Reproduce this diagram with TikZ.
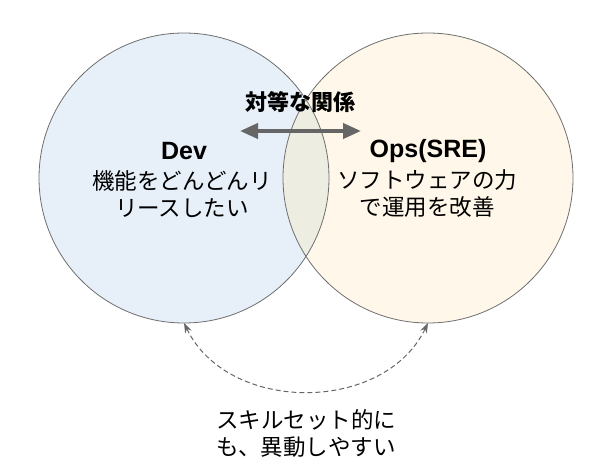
\documentclass[tikz,border=0pt]{standalone}
\usepackage{fontspec}
\setmainfont{Liberation Sans}
\newfontfamily\jp{Noto Sans CJK JP}
\usetikzlibrary{arrows.meta}
\definecolor{devfill}{HTML}{E7EFF8}
\definecolor{opsfill}{HTML}{FFF8EA}
\definecolor{lensfill}{HTML}{EDEDE2}
\definecolor{edgegray}{HTML}{6E6E6E}
\definecolor{arrowgray}{HTML}{666666}
\tikzset{
  setcircle/.style={circle, minimum size=290pt, inner sep=0pt, outer sep=0pt, draw=edgegray, line width=0.8pt},
  title/.style={font=\bfseries\fontsize{25}{28}\selectfont, inner sep=0pt},
  body/.style={font=\jp\fontsize{22.5}{27}\selectfont, align=center, inner sep=0pt},
  reltext/.style={font=\jp\bfseries\fontsize{22}{25}\selectfont, inner sep=0pt},
  bigarrow/.style={arrowgray, line width=4pt, {Triangle[length=18pt,width=15pt]}-{Triangle[length=18pt,width=15pt]}},
  dasharrow/.style={arrowgray, line width=1pt, dashed, dash pattern=on 5pt off 3pt, {Stealth[length=10pt,width=7pt]}-{Stealth[length=10pt,width=7pt]}}
}
\begin{document}
\begin{tikzpicture}[x=1pt,y=-1pt]
\useasboundingbox (0,0) rectangle (600,473);
\fill[devfill] (184,178) circle[radius=145pt];
\fill[opsfill] (428,178) circle[radius=145pt];
\begin{scope}
  \clip (184,178) circle[radius=145pt];
  \fill[lensfill] (428,178) circle[radius=145pt];
\end{scope}
\node[setcircle] (dev) at (184,178) {};
\node[setcircle] (ops) at (428,178) {};

\node[title] (devt) at (184,151) {Dev};
\node[body] (devb) at (182,194) {機能をどんどんリ\\リースしたい};
\node[title] (opst) at (428,151) {Ops(SRE)};
\node[body] (opsb) at (427,194) {ソフトウェアの力\\で運用を改善};

\node[reltext] (rel) at (300,102) {対等な関係};
\coordinate (al) at (240,131);
\coordinate (ar) at (361,131);
\draw[bigarrow] (al) -- (ar);

\draw[dasharrow] (dev.south) .. controls (228,414) and (384,414) .. (ops.south);

\node[body] (skill) at (306,433) {スキルセット的に\\も、異動しやすい};
\end{tikzpicture}
\end{document}
